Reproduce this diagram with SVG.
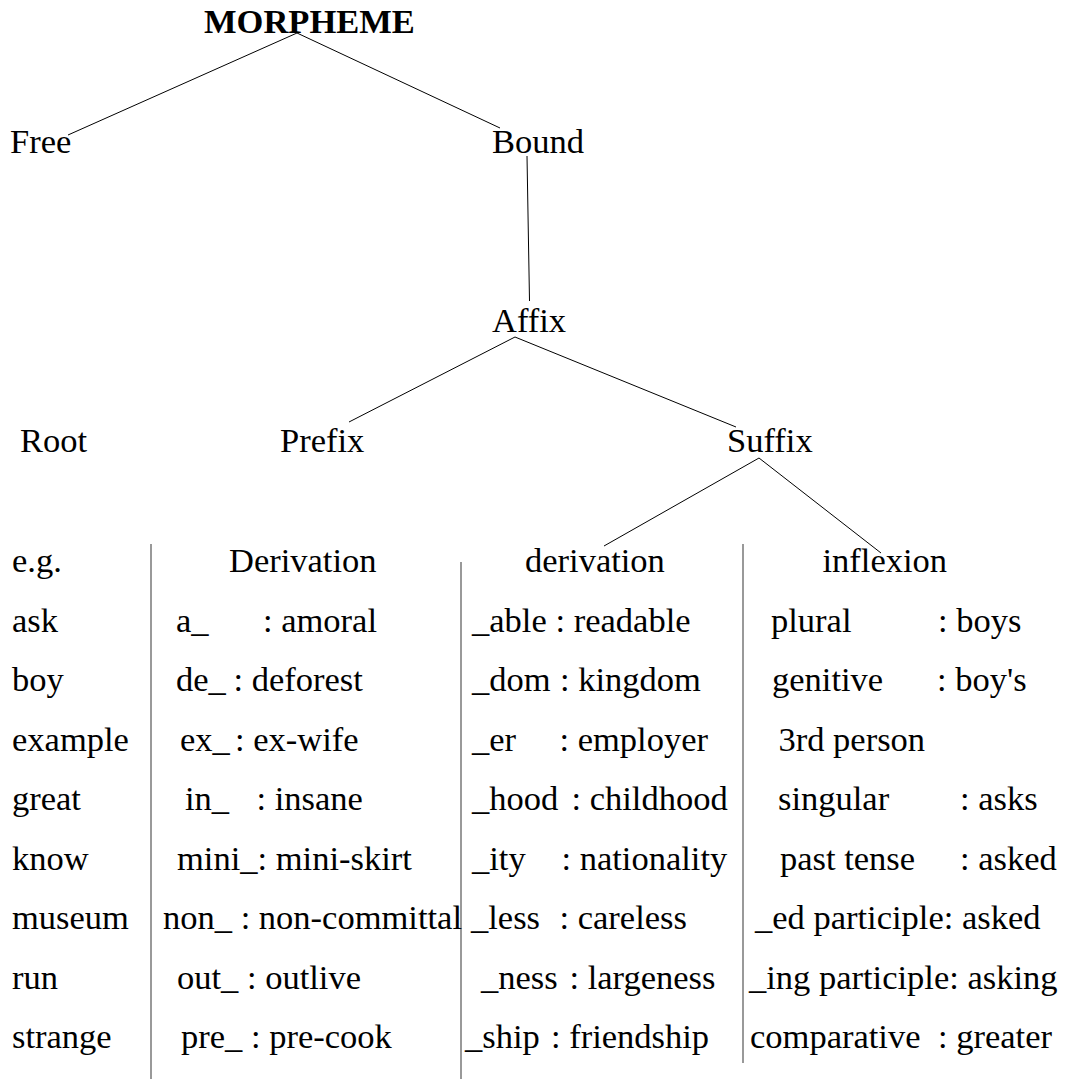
<svg xmlns="http://www.w3.org/2000/svg" width="1065" height="1079" viewBox="0 0 1065 1079">
<style>
text { font-family: 'Liberation Serif', 'Times New Roman', Times, 'DejaVu Serif', serif; font-size: 34.5px; fill: #000; }
.title { font-weight: bold; }
.edge { stroke: #000; stroke-width: 1; fill: none; }
.rule { stroke: #777; stroke-width: 1.5; fill: none; }
</style>
<rect width="1065" height="1079" fill="#fff"/>
<g id="connectors">
<line class="edge" x1="297" y1="33" x2="68" y2="135"/>
<line class="edge" x1="297" y1="33" x2="500" y2="128"/>
<line class="edge" x1="527" y1="156" x2="529.5" y2="301"/>
<line class="edge" x1="515" y1="337" x2="349" y2="422"/>
<line class="edge" x1="515" y1="337" x2="736" y2="427"/>
<line class="edge" x1="759" y1="458" x2="604" y2="546"/>
<line class="edge" x1="759" y1="458" x2="881" y2="553"/>
<line class="rule" x1="151" y1="544" x2="151" y2="1079"/>
<line class="rule" x1="461" y1="562" x2="461" y2="1079"/>
<line class="rule" x1="743" y1="544" x2="743" y2="1063"/>
</g>
<g id="morpheme"><text class="title" x="204" y="33" font-family="Liberation Serif, serif">MORPHEME</text></g>
<g id="free"><text x="10" y="153" font-family="Liberation Serif, serif">Free</text></g>
<g id="bound"><text x="492" y="153" font-family="Liberation Serif, serif">Bound</text></g>
<g id="affix"><text x="492" y="332">Affix</text></g>
<g id="root"><text x="20" y="452">Root</text></g>
<g id="prefix"><text x="280" y="452">Prefix</text></g>
<g id="suffix"><text x="727" y="452">Suffix</text></g>
<g id="root-examples">
<text x="12" y="572">e.g.</text>
<text x="12" y="631.5">ask</text>
<text x="12" y="691">boy</text>
<text x="12" y="750.5">example</text>
<text x="12" y="810">great</text>
<text x="12" y="869.5">know</text>
<text x="12" y="929">museum</text>
<text x="12" y="988.5">run</text>
<text x="12" y="1048">strange</text>
</g>
<g id="prefix-derivation">
<text x="229" y="572">Derivation</text>
<text x="176" y="631.5">a_<tspan x="263">: amoral</tspan></text>
<text x="176" y="691">de_<tspan x="233.5">: deforest</tspan></text>
<text x="180" y="750.5">ex_<tspan x="235">: ex-wife</tspan></text>
<text x="185" y="810">in_<tspan x="256.5">: insane</tspan></text>
<text x="177" y="869.5">mini_: mini-skirt</text>
<text x="163" y="929">non_ : non-committal</text>
<text x="177" y="988.5">out_ : outlive</text>
<text x="181" y="1048">pre_ : pre-cook</text>
</g>
<g id="suffix-derivation">
<text x="525" y="572">derivation</text>
<text x="472" y="631.5">_able<tspan x="555.5">: readable</tspan></text>
<text x="472" y="691">_dom<tspan x="560">: kingdom</tspan></text>
<text x="472" y="750.5">_er<tspan x="559.5">: employer</tspan></text>
<text x="472" y="810">_hood<tspan x="571.5">: childhood</tspan></text>
<text x="472" y="869.5">_ity<tspan x="561.5">: nationality</tspan></text>
<text x="471" y="929">_less<tspan x="559.5">: careless</tspan></text>
<text x="481" y="988.5">_ness<tspan x="569.5">: largeness</tspan></text>
<text x="465" y="1048">_ship<tspan x="551">: friendship</tspan></text>
</g>
<g id="suffix-inflexion">
<text x="822.5" y="572">inflexion</text>
<text x="771" y="631.5">plural<tspan x="938">: boys</tspan></text>
<text x="772" y="691">genitive<tspan x="937">: boy's</tspan></text>
<text x="778.5" y="750.5">3rd person</text>
<text x="778" y="810">singular<tspan x="960">: asks</tspan></text>
<text x="780" y="869.5">past tense<tspan x="960">: asked</tspan></text>
<text x="755" y="929">_ed participle: asked</text>
<text x="749" y="988.5">_ing participle: asking</text>
<text x="750" y="1048">comparative<tspan x="938">: greater</tspan></text>
</g>
</svg>
